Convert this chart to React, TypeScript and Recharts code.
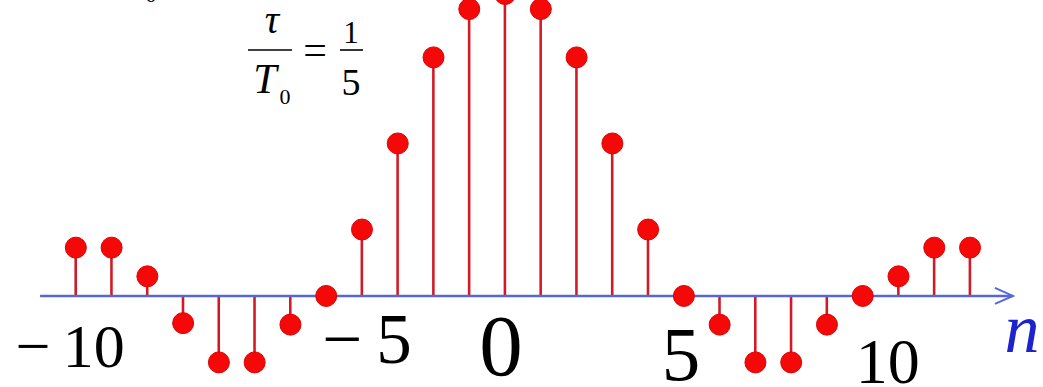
import React from 'react';
import { ComposedChart, XAxis, YAxis, Bar, Scatter, ReferenceLine } from 'recharts';

// Fourier coefficients of a periodic pulse train, tau / T0 = 1/5
const harmonics = [-12, -11, -10, -9, -8, -7, -6, -5, -4, -3, -2, -1, 0, 1, 2, 3, 4, 5, 6, 7, 8, 9, 10, 11, 12, 13];
const coefficients = [
  0.032, 0.032, 0.013, -0.018, -0.044, -0.044, -0.019, 0, 0.044, 0.101, 0.158, 0.19, 0.2,
  0.19, 0.158, 0.101, 0.044, 0, -0.019, -0.044, -0.044, -0.019, 0, 0.013, 0.032, 0.032,
];

// axis numbers under the baseline
const tickLabels = ['\u2212\u200910', '\u2212\u20095', '0', '5', '10'];
const tickAt = [-12.16, -3.86, -0.11, 4.92, 10.7];
const tickBaseline = [-0.047, -0.0444, -0.0523, -0.0556, -0.0576];
const tickFontSize = [62, 71, 87, 77, 64];

const axisStart = -13;
const axisEnd = 14.2;

const stems = harmonics.map((n, i) => ({ n, c: coefficients[i] }));
const labelPoints = tickLabels.map((text, i) => ({ n: tickAt[i], y: tickBaseline[i], text, size: tickFontSize[i] }));

const SERIF = '"Liberation Serif", "Times New Roman", serif';
const STEM = '#d11a24';
const DOT = '#f40808';
const AXIS = '#5668d6';

const StemHead = (props: any) => {
  const { cx, cy } = props;
  if (cx == null || cy == null) return null;
  return <circle cx={cx} cy={cy} r={10.5} fill={DOT} stroke="#e00000" strokeWidth={1} />;
};

const AxisNumber = (props: any) => {
  const { cx, cy, payload } = props;
  if (cx == null || cy == null) return null;
  return (
    <text x={cx} y={cy} textAnchor="middle" fontFamily={SERIF} fontSize={payload.size} fill="#000">
      {payload.text}
    </text>
  );
};

const ArrowAxis = (props: any) => {
  const { x1, y1, x2, y2 } = props;
  return (
    <g>
      <line x1={x1} y1={y1} x2={x2} y2={y2} stroke={AXIS} strokeWidth={2.5} />
      <polyline
        points={`${x2 - 18},${y2 - 8} ${x2},${y2} ${x2 - 18},${y2 + 8}`}
        fill="none"
        stroke={AXIS}
        strokeWidth={2}
      />
    </g>
  );
};

export default function App() {
  return (
    <div style={{ position: 'absolute', left: 0, top: 0, width: 1043, height: 387, background: '#fff' }}>
      <ComposedChart width={1043} height={387} data={stems} margin={{ top: 0, right: 0, bottom: 0, left: 0 }}>
        <XAxis type="number" dataKey="n" domain={[-14.12, 15.04]} allowDataOverflow hide />
        <YAxis type="number" domain={[-0.0603, 0.196]} allowDataOverflow hide />
        <Bar dataKey="c" barSize={3} fill={STEM} isAnimationActive={false} />
        <ReferenceLine
          segment={[{ x: axisStart, y: 0 }, { x: axisEnd, y: 0 }]}
          shape={ArrowAxis}
          ifOverflow="visible"
        />
        <Scatter data={stems} dataKey="c" shape={StemHead} isAnimationActive={false} />
        <Scatter data={labelPoints} dataKey="y" shape={AxisNumber} isAnimationActive={false} />
      </ComposedChart>

      <svg width={1043} height={387} style={{ position: 'absolute', left: 0, top: 0, pointerEvents: 'none' }}>
        <g fontFamily={SERIF} fill="#000">
          <text x={151} y={2} textAnchor="middle" fontSize={22}>0</text>
          {/* tau / T0 = 1 / 5 */}
          <text x={272} y={33} textAnchor="middle" fontSize={40} fontStyle="italic">τ</text>
          <line x1={248} y1={50} x2={292} y2={50} stroke="#000" strokeWidth={1.6} />
          <text x={265} y={93} textAnchor="middle" fontSize={42} fontStyle="italic">T</text>
          <text x={285} y={104} textAnchor="middle" fontSize={22}>0</text>
          <text x={315} y={64} textAnchor="middle" fontSize={42}>=</text>
          <text x={351} y={43} textAnchor="middle" fontSize={31}>1</text>
          <line x1={340} y1={50} x2={363} y2={50} stroke="#000" strokeWidth={1.6} />
          <text x={351} y={95} textAnchor="middle" fontSize={38}>5</text>
        </g>
        <text x={1022} y={352} textAnchor="middle" fontFamily={SERIF} fontSize={70} fontStyle="italic" fill="#1c22cc">
          n
        </text>
      </svg>
    </div>
  );
}
